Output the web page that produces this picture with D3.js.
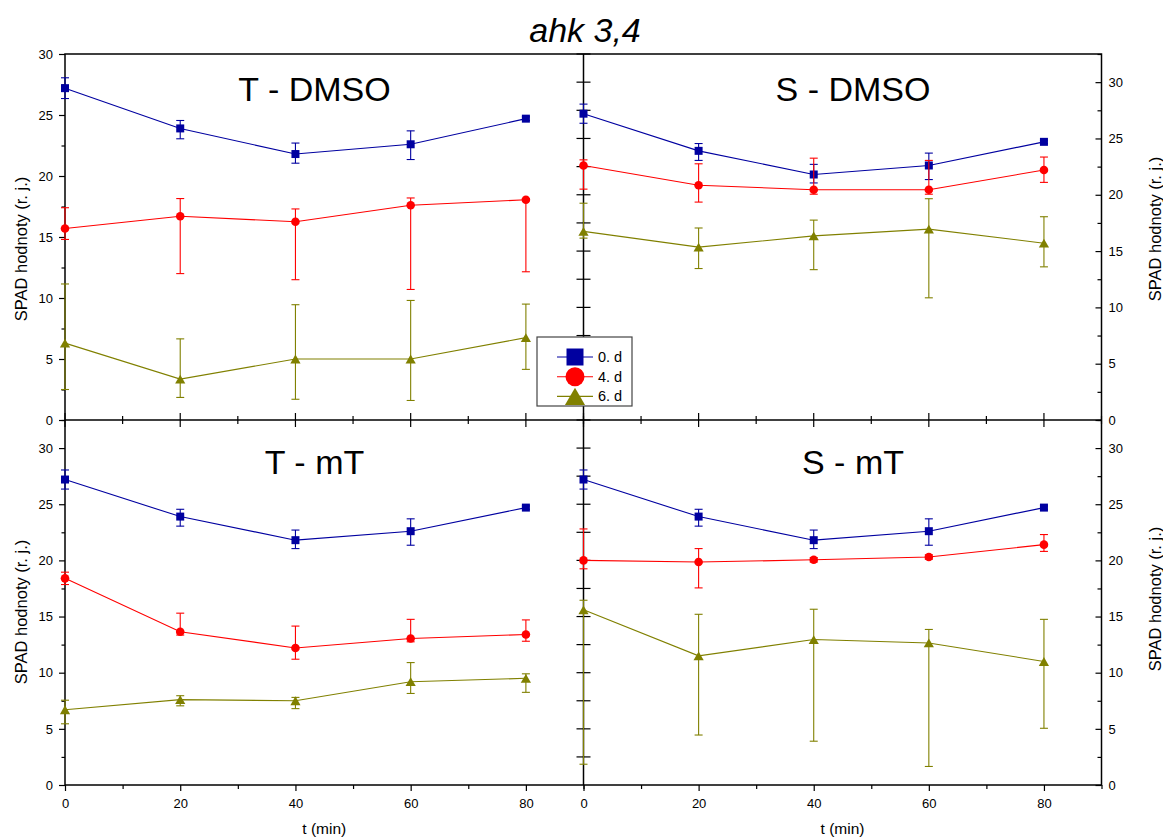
<!DOCTYPE html>
<html>
<head>
<meta charset="utf-8">
<script src="https://cdn.jsdelivr.net/npm/d3@7"></script>
<style>
  body { margin: 0; background: #fff; }
  svg { display: block; }
  text { font-family: "Liberation Sans", Arial, sans-serif; fill: #000; }
</style>
</head>
<body>
<svg id="chart" width="1163" height="839"></svg>
<script>
// ---------- data ----------
const times = [0, 20, 40, 60, 80];
const seriesNames = ["0. d", "4. d", "6. d"];
const panelNames = ["T - DMSO", "S - DMSO", "T - mT", "S - mT"];
const yTickValues = [0, 5, 10, 15, 20, 25, 30];
const xTickValues = [0, 20, 40, 60, 80];
const chartTitle = "ahk 3,4";
const yTitle = "SPAD hodnoty (r. j.)";
const xTitle = "t (min)";

// day 0 (same baseline measurement in every panel)
const day0Mean = [27.2, 23.9, 21.8, 22.6, 24.7];
const day0Up   = [0.85, 0.65, 0.9, 1.1, 0.15];
const day0Down = [0.85, 0.85, 0.75, 1.25, 0.15];

// T - DMSO
const tDmso4Mean = [15.7, 16.7, 16.25, 17.6, 18.05];
const tDmso4Up   = [1.7, 1.45, 1.05, 0.6, 0.1];
const tDmso4Down = [0.9, 4.7, 4.75, 6.9, 5.9];
const tDmso6Mean = [6.3, 3.35, 5.0, 5.0, 6.75];
const tDmso6Up   = [4.85, 3.3, 4.45, 4.8, 2.75];
const tDmso6Down = [3.8, 1.5, 3.3, 3.4, 2.6];

// S - DMSO
const sDmso4Mean = [22.6, 20.85, 20.45, 20.45, 22.2];
const sDmso4Up   = [0.5, 1.9, 2.8, 2.6, 1.15];
const sDmso4Down = [2.1, 1.5, 0.4, 0.4, 1.1];
const sDmso6Mean = [16.75, 15.35, 16.35, 16.95, 15.7];
const sDmso6Up   = [2.5, 1.7, 1.4, 2.7, 2.35];
const sDmso6Down = [0.6, 1.9, 3.0, 6.1, 2.1];

// T - mT
const tMt4Mean = [18.4, 13.65, 12.2, 13.05, 13.4];
const tMt4Up   = [0.55, 1.65, 1.95, 1.7, 1.3];
const tMt4Down = [0.55, 0.3, 1.0, 0.3, 0.6];
const tMt6Mean = [6.7, 7.6, 7.5, 9.2, 9.5];
const tMt6Up   = [0.85, 0.35, 0.3, 1.7, 0.4];
const tMt6Down = [1.25, 0.55, 0.7, 1.05, 1.25];

// S - mT
const sMt4Mean = [20.0, 19.85, 20.05, 20.3, 21.4];
const sMt4Up   = [2.8, 1.2, 0.2, 0.2, 0.9];
const sMt4Down = [0.75, 2.3, 0.2, 0.2, 0.6];
const sMt6Mean = [15.6, 11.5, 12.95, 12.65, 11.0];
const sMt6Up   = [0.85, 3.7, 2.7, 1.2, 3.75];
const sMt6Down = [13.75, 7.05, 9.05, 11.0, 5.95];

const panelSeries = [
  [[day0Mean, day0Up, day0Down], [tDmso4Mean, tDmso4Up, tDmso4Down], [tDmso6Mean, tDmso6Up, tDmso6Down]],
  [[day0Mean, day0Up, day0Down], [sDmso4Mean, sDmso4Up, sDmso4Down], [sDmso6Mean, sDmso6Up, sDmso6Down]],
  [[day0Mean, day0Up, day0Down], [tMt4Mean, tMt4Up, tMt4Down], [tMt6Mean, tMt6Up, tMt6Down]],
  [[day0Mean, day0Up, day0Down], [sMt4Mean, sMt4Up, sMt4Down], [sMt6Mean, sMt6Up, sMt6Down]]
];

// ---------- layout & style ----------
const frame = { left: 65, mid: 583.5, right: 1101.5, top: 54, midY: 420, bottom: 785 };
const layouts = [
  { x: [frame.left, frame.mid],  y: [frame.midY, frame.top],   yMax: 30,   side: "left",  labelX: 314.5, labelY: 101 },
  { x: [frame.mid, frame.right], y: [frame.midY, frame.top],   yMax: 32.5, side: "right", labelX: 853,   labelY: 101 },
  { x: [frame.left, frame.mid],  y: [frame.bottom, frame.midY], yMax: 32.5, side: "left",  labelX: 314.5, labelY: 474 },
  { x: [frame.mid, frame.right], y: [frame.bottom, frame.midY], yMax: 32.5, side: "right", labelX: 853,   labelY: 474 }
];
const colors = ["#0000a0", "#ff0000", "#808000"];

// triangle centred on its bounding box
const symbolTriangleBox = {
  draw(ctx, size) {
    const s = Math.sqrt(size * 4 / Math.sqrt(3));
    const h = s * Math.sqrt(3) / 2;
    ctx.moveTo(0, -h / 2);
    ctx.lineTo(s / 2, h / 2);
    ctx.lineTo(-s / 2, h / 2);
    ctx.closePath();
  }
};
const symbolTypes = [d3.symbolSquare, d3.symbolCircle, symbolTriangleBox];
const plotSizes = [64, 58, 45];
const legendSizes = [289, 283, 175];

const svg = d3.select("#chart");

const scales = layouts.map(L => ({
  x: d3.scaleLinear().domain([0, 90]).range(L.x),
  y: d3.scaleLinear().domain([0, L.yMax]).range(L.y)
}));

function styleAxis(g, fontSize) {
  g.select(".domain").remove();
  g.selectAll(".tick line").attr("stroke", "#000").attr("stroke-width", 1.2);
  g.selectAll(".tick text").attr("font-size", fontSize).attr("font-family", '"Liberation Sans", Arial, sans-serif').attr("fill", "#000");
}

// ---------- axes ----------
layouts.forEach((L, i) => {
  const { x, y } = scales[i];
  const majorY = yTickValues;
  const minorY = d3.range(2.5, L.yMax + 0.01, 5);
  if (L.side === "left") {
    svg.append("g").attr("transform", `translate(${frame.left},0)`)
      .call(d3.axisLeft(y).tickValues(majorY).tickSize(6).tickPadding(6))
      .call(g => styleAxis(g, 13));
    svg.append("g").attr("transform", `translate(${frame.left},0)`)
      .call(d3.axisLeft(y).tickValues(minorY).tickSize(3.5).tickFormat(""))
      .call(g => styleAxis(g, 13));
  } else {
    svg.append("g").attr("transform", `translate(${frame.right},0)`)
      .call(d3.axisRight(y).tickValues(majorY).tickSize(-6).tickPadding(7))
      .call(g => styleAxis(g, 13));
    svg.append("g").attr("transform", `translate(${frame.right},0)`)
      .call(d3.axisRight(y).tickValues(minorY).tickSize(-4).tickFormat(""))
      .call(g => styleAxis(g, 13));
    // ticks crossing the shared vertical divider
    svg.append("g").selectAll("line").data(d3.range(2.5, L.yMax + 0.01, 2.5)).join("line")
      .attr("x1", frame.mid - 7).attr("x2", frame.mid + 7)
      .attr("y1", d => y(d)).attr("y2", d => y(d))
      .attr("stroke", "#000").attr("stroke-width", 1.2);
  }
  const minorX = d3.range(10, 91, 20);
  if (i >= 2) {
    svg.append("g").attr("transform", `translate(0,${frame.bottom})`)
      .call(d3.axisBottom(x).tickValues(xTickValues).tickSize(6).tickPadding(8))
      .call(g => styleAxis(g, 13));
    svg.append("g").attr("transform", `translate(0,${frame.bottom})`)
      .call(d3.axisBottom(x).tickValues(minorX).tickSize(4).tickFormat(""))
      .call(g => styleAxis(g, 13));
  } else {
    // ticks crossing the shared horizontal divider
    const g = svg.append("g");
    g.selectAll("line.major").data(xTickValues).join("line").attr("class", "major")
      .attr("x1", d => x(d)).attr("x2", d => x(d))
      .attr("y1", frame.midY - 7).attr("y2", frame.midY + 7)
      .attr("stroke", "#000").attr("stroke-width", 1.2);
    g.selectAll("line.minor").data(minorX).join("line").attr("class", "minor")
      .attr("x1", d => x(d)).attr("x2", d => x(d))
      .attr("y1", frame.midY - 4).attr("y2", frame.midY + 4)
      .attr("stroke", "#000").attr("stroke-width", 1.2);
  }
});

// ---------- frame ----------
const frameG = svg.append("g").attr("stroke", "#000").attr("stroke-width", 1.5).attr("fill", "none");
frameG.append("rect").attr("x", frame.left).attr("y", frame.top)
  .attr("width", frame.right - frame.left).attr("height", frame.bottom - frame.top);
frameG.append("line").attr("x1", frame.mid).attr("x2", frame.mid).attr("y1", frame.top).attr("y2", frame.bottom);
frameG.append("line").attr("x1", frame.left).attr("x2", frame.right).attr("y1", frame.midY).attr("y2", frame.midY);

// ---------- series ----------
layouts.forEach((L, i) => {
  const { x, y } = scales[i];
  const g = svg.append("g");
  panelSeries[i].forEach(([mean, up, down], s) => {
    const pts = times.map((t, k) => ({ t, v: mean[k], hi: mean[k] + up[k], lo: mean[k] - down[k] }));
    const c = colors[s];
    const sg = g.append("g");
    sg.append("path").datum(pts)
      .attr("d", d3.line().x(d => x(d.t)).y(d => y(d.v)))
      .attr("fill", "none").attr("stroke", c).attr("stroke-width", 1.1);
    const eb = sg.selectAll("g.err").data(pts).join("g").attr("class", "err")
      .attr("stroke", c).attr("stroke-width", 1.1);
    eb.append("line").attr("x1", d => x(d.t)).attr("x2", d => x(d.t)).attr("y1", d => y(d.hi)).attr("y2", d => y(d.lo));
    eb.append("line").attr("x1", d => x(d.t) - 4).attr("x2", d => x(d.t) + 4).attr("y1", d => y(d.hi)).attr("y2", d => y(d.hi));
    eb.append("line").attr("x1", d => x(d.t) - 4).attr("x2", d => x(d.t) + 4).attr("y1", d => y(d.lo)).attr("y2", d => y(d.lo));
    sg.selectAll("path.mk").data(pts).join("path").attr("class", "mk")
      .attr("transform", d => `translate(${x(d.t)},${y(d.v)})`)
      .attr("d", d3.symbol().type(symbolTypes[s]).size(plotSizes[s]))
      .attr("fill", c);
  });
  svg.append("text").attr("x", L.labelX).attr("y", L.labelY)
    .attr("text-anchor", "middle").attr("font-size", 34).text(panelNames[i]);
});

// ---------- titles ----------
svg.append("text").attr("x", 585).attr("y", 42).attr("text-anchor", "middle")
  .attr("font-size", 34).attr("font-style", "italic").text(chartTitle);

[[20.5, 249], [20.5, 612], [1155, 229], [1155, 599]].forEach(([cx, cy]) => {
  svg.append("text").attr("transform", `translate(${cx},${cy}) rotate(-90)`)
    .attr("text-anchor", "middle").attr("dominant-baseline", "central")
    .attr("font-size", 16.5).text(yTitle);
});
[(frame.left + frame.mid) / 2, (frame.mid + frame.right) / 2].forEach(cx => {
  svg.append("text").attr("x", cx).attr("y", 834).attr("text-anchor", "middle")
    .attr("font-size", 15.5).text(xTitle);
});

// ---------- legend ----------
const lg = svg.append("g").attr("transform", "translate(537,337)");
lg.append("rect").attr("width", 95).attr("height", 69)
  .attr("fill", "#fff").attr("stroke", "#444").attr("stroke-width", 1.2);
seriesNames.forEach((name, s) => {
  const cy = 20 + s * 19.7;
  lg.append("line").attr("x1", 20).attr("x2", 56).attr("y1", cy).attr("y2", cy)
    .attr("stroke", colors[s]).attr("stroke-width", 1.1);
  lg.append("path").attr("transform", `translate(38,${cy})`)
    .attr("d", d3.symbol().type(symbolTypes[s]).size(legendSizes[s])).attr("fill", colors[s]);
  lg.append("text").attr("x", 61).attr("y", cy).attr("dominant-baseline", "central")
    .attr("font-size", 14.5).text(name);
});
</script>
</body>
</html>
